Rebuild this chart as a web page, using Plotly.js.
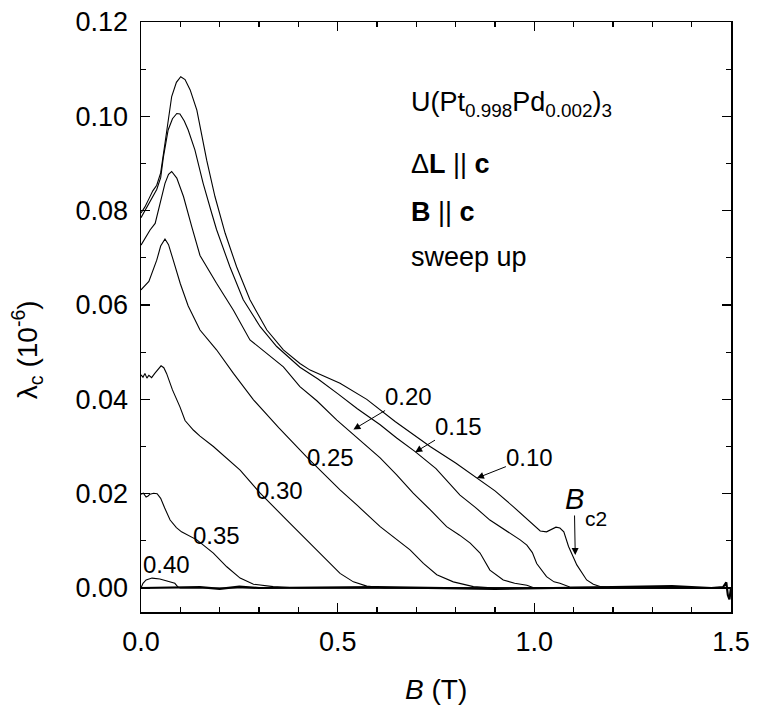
<!DOCTYPE html>
<html>
<head>
<meta charset="utf-8">
<script src="https://cdn.plot.ly/plotly-3.0.1.min.js"></script>
<style>html,body{margin:0;padding:0;background:#fff}#chart{width:759px;height:710px}</style>
</head>
<body>
<div id="chart"></div>
<script>
// ---- data ----
const b010 = [0, 0.01, 0.02, 0.03, 0.04, 0.05, 0.061, 0.07, 0.078, 0.09, 0.101, 0.112, 0.125, 0.142, 0.167, 0.188, 0.214, 0.243, 0.277, 0.32, 0.362, 0.404, 0.43, 0.506, 0.574, 0.646, 0.70, 0.735, 0.80, 0.853, 0.90, 0.947, 0.98, 1.015, 1.031, 1.045, 1.055, 1.065, 1.075, 1.087, 1.108, 1.133, 1.15, 1.167, 1.19, 1.5];
const l010 = [0.0795, 0.0808, 0.0825, 0.0842, 0.0854, 0.0880, 0.0943, 0.1000, 0.1042, 0.1072, 0.1084, 0.1078, 0.1056, 0.1013, 0.0907, 0.0830, 0.0752, 0.0681, 0.0611, 0.0547, 0.0505, 0.0476, 0.0462, 0.0434, 0.0400, 0.0353, 0.0322, 0.0300, 0.0265, 0.0233, 0.0206, 0.0172, 0.0148, 0.0121, 0.0119, 0.0125, 0.0129, 0.0127, 0.0119, 0.0088, 0.0049, 0.0017, 0.0008, 0.0003, 0.0001, 0];

const b015 = [0, 0.01, 0.02, 0.03, 0.04, 0.05, 0.057, 0.069, 0.08, 0.091, 0.099, 0.11, 0.120, 0.137, 0.158, 0.180, 0.192, 0.226, 0.26, 0.303, 0.345, 0.404, 0.45, 0.50, 0.55, 0.608, 0.65, 0.697, 0.75, 0.811, 0.85, 0.887, 0.93, 0.964, 0.981, 0.995, 1.006, 1.02, 1.031, 1.05, 1.065, 1.09, 1.5];
const l015 = [0.0785, 0.0800, 0.0815, 0.0830, 0.0845, 0.0870, 0.0914, 0.0971, 0.0995, 0.1006, 0.1005, 0.0990, 0.0971, 0.0929, 0.0858, 0.0794, 0.0760, 0.0681, 0.0611, 0.0554, 0.0512, 0.0468, 0.0443, 0.0412, 0.0380, 0.0346, 0.0318, 0.0289, 0.0253, 0.0197, 0.0171, 0.0144, 0.0121, 0.0102, 0.0091, 0.0075, 0.0052, 0.0035, 0.0024, 0.0013, 0.0010, 0.0002, 0];

const b020 = [0, 0.01, 0.023, 0.036, 0.048, 0.061, 0.07, 0.078, 0.091, 0.108, 0.129, 0.150, 0.192, 0.235, 0.277, 0.32, 0.362, 0.404, 0.447, 0.498, 0.54, 0.608, 0.65, 0.692, 0.735, 0.777, 0.81, 0.837, 0.862, 0.887, 0.921, 0.95, 0.981, 1.0, 1.5];
const l020 = [0.0727, 0.0742, 0.0759, 0.0773, 0.0816, 0.0858, 0.0877, 0.0883, 0.0869, 0.0830, 0.0766, 0.0705, 0.0646, 0.0589, 0.0526, 0.0497, 0.0469, 0.0427, 0.0397, 0.0356, 0.0326, 0.0276, 0.0240, 0.0201, 0.0166, 0.0130, 0.0112, 0.0095, 0.0074, 0.0038, 0.0017, 0.0010, 0.0006, 0.0, 0];

const b025 = [0, 0.02, 0.04, 0.05, 0.061, 0.07, 0.082, 0.10, 0.12, 0.150, 0.192, 0.235, 0.286, 0.35, 0.421, 0.506, 0.55, 0.608, 0.684, 0.718, 0.752, 0.794, 0.845, 0.9, 1.5];
const l025 = [0.0632, 0.0650, 0.0695, 0.0725, 0.0740, 0.0728, 0.0695, 0.0645, 0.0598, 0.0547, 0.0505, 0.0455, 0.0399, 0.0340, 0.0278, 0.0208, 0.0175, 0.0130, 0.0081, 0.0052, 0.0028, 0.0013, 0.0003, 0.0, 0];

const b030 = [0, 0.005, 0.01, 0.015, 0.02, 0.027, 0.035, 0.043, 0.051, 0.058, 0.065, 0.08, 0.099, 0.112, 0.133, 0.150, 0.184, 0.252, 0.303, 0.379, 0.447, 0.481, 0.506, 0.54, 0.574, 0.62, 1.5];
const l030 = [0.0452, 0.0447, 0.0455, 0.0445, 0.0451, 0.0446, 0.0455, 0.0464, 0.0471, 0.0467, 0.0455, 0.0420, 0.0384, 0.0355, 0.0335, 0.0322, 0.0300, 0.0250, 0.0201, 0.0137, 0.0081, 0.0052, 0.0031, 0.0013, 0.0004, 0, 0];

const b035 = [0, 0.006, 0.013, 0.018, 0.023, 0.032, 0.041, 0.05, 0.06, 0.074, 0.09, 0.103, 0.142, 0.184, 0.218, 0.252, 0.286, 0.336, 0.4, 1.5];
const l035 = [0.0199, 0.0201, 0.0193, 0.0195, 0.0199, 0.0201, 0.0200, 0.0190, 0.0170, 0.0144, 0.0128, 0.0119, 0.0102, 0.0074, 0.0045, 0.0021, 0.0008, 0.0003, 0, 0];

const b040 = [0, 0.005, 0.013, 0.028, 0.048, 0.074, 0.086, 0.094, 0.1, 1.5];
const l040 = [0, 0.0010, 0.0017, 0.0021, 0.0019, 0.0013, 0.0010, 0.0002, 0, 0];

const bBase = [0, 0.15, 0.2, 0.25, 0.3, 0.6, 0.9, 1.2, 1.35, 1.45, 1.48, 1.488, 1.492, 1.496, 1.5];
const lBase = [0, 0.0002, -0.0002, 0.0003, 0, 0.0002, -0.0002, 0.0002, 0.0004, 0, 0.0002, 0.0012, -0.0015, -0.0024, 0];

const curveLabels = ["0.10", "0.15", "0.20", "0.25", "0.30", "0.35", "0.40"];
const xTickVals = [0, 0.5, 1.0, 1.5];
const yTickVals = [0, 0.02, 0.04, 0.06, 0.08, 0.10, 0.12];

// ---- drawing ----
const FONT = "Liberation Sans, Arial, Helvetica, sans-serif";
const series = [[b010,l010],[b015,l015],[b020,l020],[b025,l025],[b030,l030],[b035,l035],[b040,l040]];
const traces = series.map((s, i) => ({
  x: s[0], y: s[1], type: 'scatter', mode: 'lines', name: curveLabels[i],
  line: {color: '#000', width: 1.1}, hoverinfo: 'skip'
}));
traces.push({x: bBase, y: lBase, type: 'scatter', mode: 'lines', name: 'base',
  line: {color: '#000', width: 2.2}, hoverinfo: 'skip'});

function lab(text, x, y, size) {
  return {text: text, x: x, y: y, xref: 'x', yref: 'y', showarrow: false,
    xanchor: 'center', yanchor: 'middle', font: {family: FONT, size: size || 24, color: '#000'}};
}
// label with an arrow: (x, y) is the arrow tip, (ax, ay) the pixel offset of the label centre
function arrLab(text, x, y, ax, ay, size, italic) {
  return {text: text, x: x, y: y, ax: ax, ay: ay, xref: 'x', yref: 'y', showarrow: true,
    arrowhead: 2, arrowsize: 1.4, arrowwidth: 1, arrowcolor: '#000', standoff: 0, startstandoff: 0,
    borderpad: 0, font: {family: FONT, size: size || 24, color: '#000'}};
}
function row(text, y) {
  return {text: text, x: 0.681, y: y, xref: 'x', yref: 'y', showarrow: false,
    xanchor: 'left', yanchor: 'middle', font: {family: FONT, size: 27, color: '#000'}};
}

const annotations = [
  arrLab(curveLabels[2], 0.540, 0.0336, 55, -33),
  arrLab(curveLabels[1], 0.697, 0.0288, 43, -26),
  arrLab(curveLabels[0], 0.854, 0.0233, 53, -21),
  lab(curveLabels[3], 0.483, 0.0276),
  lab(curveLabels[4], 0.353, 0.0206),
  lab(curveLabels[5], 0.193, 0.0112),
  lab(curveLabels[6], 0.064, 0.0049),
  arrLab('<i>B</i>', 1.104, 0.0070, -1, -56, 29),
  {text: 'c2', x: 1.157, y: 0.0148, xref: 'x', yref: 'y', showarrow: false,
    xanchor: 'center', yanchor: 'middle', font: {family: FONT, size: 21, color: '#000'}},
  row('U(Pt<sub>0.998</sub>Pd<sub>0.002</sub>)<sub>3</sub>', 0.1027),
  row('\u0394<b>L</b> || <b>c</b>', 0.0899),
  row('<b>B</b> || <b>c</b>', 0.0797),
  row('sweep up', 0.0702),
  {text: '\u03bb<sub>c</sub> (10<sup>-6</sup>)', x: -0.193, y: 0.444, xref: 'paper', yref: 'paper',
    showarrow: false, textangle: -90, xanchor: 'center', yanchor: 'middle',
    font: {family: FONT, size: 28, color: '#000'}},
  {text: '<i>B</i> (T)', x: 0.5, y: -0.132, xref: 'paper', yref: 'paper',
    showarrow: false, xanchor: 'center', yanchor: 'middle',
    font: {family: FONT, size: 28, color: '#000'}}
];

const axisCommon = {
  showgrid: false, zeroline: false, showline: true, linecolor: '#000', linewidth: 1.5,
  mirror: 'ticks', ticks: 'inside', ticklen: 9, tickwidth: 1.2, tickcolor: '#000',
  tickfont: {family: FONT, size: 27, color: '#000'}
};

const layout = {
  width: 759, height: 710,
  margin: {l: 141, r: 28, t: 22, b: 98},
  paper_bgcolor: '#fff', plot_bgcolor: '#fff',
  showlegend: false,
  font: {family: FONT, color: '#000'},
  xaxis: Object.assign({}, axisCommon, {
    range: [0, 1.5], tickvals: xTickVals, tickformat: '.1f', ticklabelstandoff: 5,
    minor: {dtick: 0.1, ticks: 'inside', ticklen: 5, tickwidth: 1.2, tickcolor: '#000'}
  }),
  yaxis: Object.assign({}, axisCommon, {
    range: [-0.00509, 0.12], tickvals: yTickVals, tickformat: '.2f', ticklabelstandoff: 6,
    minor: {dtick: 0.01, ticks: 'inside', ticklen: 5, tickwidth: 1.2, tickcolor: '#000'}
  }),
  annotations: annotations
};

Plotly.newPlot('chart', traces, layout, {staticPlot: true, displayModeBar: false});
</script>
</body>
</html>
